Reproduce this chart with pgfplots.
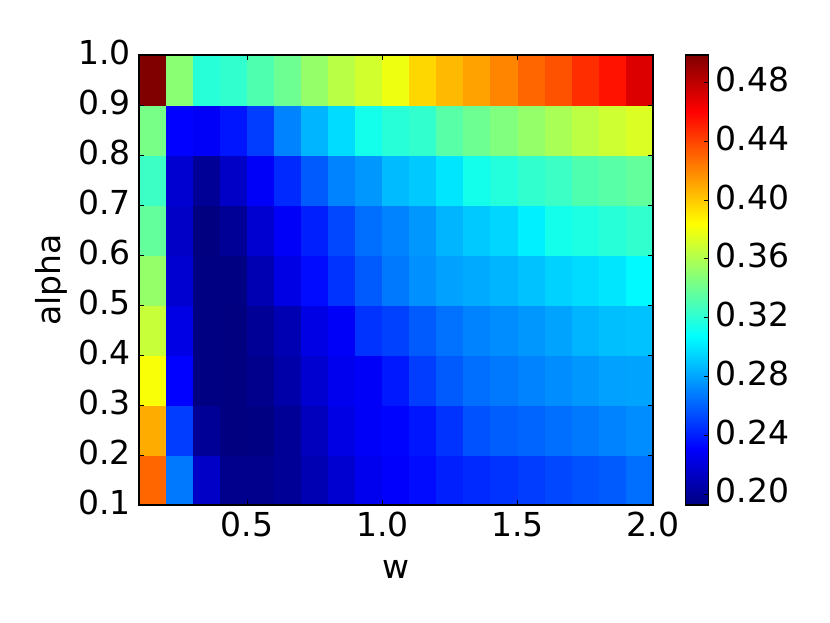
\documentclass[border=0pt]{standalone}
\usepackage{fontspec}
\setmainfont{DejaVu Sans}
\usepackage{pgfplots}
\pgfplotsset{compat=1.18}
\pgfplotsset{
  every axis/.append style={
    /pgf/number format/assume math mode=true,
    tick label style={font=\fontsize{33}{40}\selectfont},
    label style={font=\fontsize{33}{40}\selectfont},
    axis line style={black, line width=1.1pt},
    every tick/.style={black, line width=0.9pt},
    major tick length=5pt,
    tick align=inside,
  },
}
\begin{document}
\begin{tikzpicture}
\begin{axis}[
  at={(0pt,0pt)}, anchor=south west,
  scale only axis, width=514pt, height=450pt,
  axis on top,
  xmin=0.1, xmax=2.0, ymin=0.1, ymax=1.0,
  xtick={0.5,1.0,1.5,2.0},
  ytick={0.1,0.2,0.3,0.4,0.5,0.6,0.7,0.8,0.9,1.0},
  xticklabel style={/pgf/number format/fixed, /pgf/number format/fixed zerofill, /pgf/number format/precision=1,
    anchor=north, inner sep=0pt, yshift=-7pt},
  yticklabel style={/pgf/number format/fixed, /pgf/number format/fixed zerofill, /pgf/number format/precision=1,
    anchor=east, inner sep=0pt, xshift=-8pt, yshift=3pt},
  xlabel={w}, ylabel={alpha},
  xlabel style={at={(axis description cs:0.5,0)}, anchor=base, yshift=-74pt},
  ylabel style={at={(axis description cs:-0.152,0.5)}, anchor=base},
  colormap/jet,
  point meta min=0.1925, point meta max=0.4988,
  colorbar,
  colorbar/width=23pt,
  colorbar style={
    at={(parent axis.north east)}, anchor=north west, xshift=24pt,
    scale only axis, height=450pt,
    enlargelimits=false,
    axis on top,
    tick align=inside,
    major tick length=5pt,
    ytick={0.20,0.24,0.28,0.32,0.36,0.40,0.44,0.48},
    ytick pos=right,
    yticklabel pos=right,
    yticklabel style={/pgf/number format/fixed, /pgf/number format/fixed zerofill, /pgf/number format/precision=2,
      anchor=west, inner sep=0pt, xshift=7pt, yshift=3pt},
  },
]
\addplot[matrix plot*, mesh/cols=19, point meta=explicit] coordinates {
(0.15,0.15)[0.430] (0.25,0.15)[0.267] (0.35,0.15)[0.214] (0.45,0.15)[0.196] (0.55,0.15)[0.196] (0.65,0.15)[0.199] (0.75,0.15)[0.208] (0.85,0.15)[0.217] (0.95,0.15)[0.226] (1.05,0.15)[0.230] (1.15,0.15)[0.234] (1.25,0.15)[0.240] (1.35,0.15)[0.243] (1.45,0.15)[0.246] (1.55,0.15)[0.249] (1.65,0.15)[0.252] (1.75,0.15)[0.255] (1.85,0.15)[0.258] (1.95,0.15)[0.264]
(0.15,0.25)[0.409] (0.25,0.25)[0.249] (0.35,0.25)[0.199] (0.45,0.25)[0.1925] (0.55,0.25)[0.193] (0.65,0.25)[0.199] (0.75,0.25)[0.211] (0.85,0.25)[0.223] (0.95,0.25)[0.229] (1.05,0.25)[0.232] (1.15,0.25)[0.237] (1.25,0.25)[0.246] (1.35,0.25)[0.255] (1.45,0.25)[0.259] (1.55,0.25)[0.261] (1.65,0.25)[0.264] (1.75,0.25)[0.267] (1.85,0.25)[0.270] (1.95,0.25)[0.273]
(0.15,0.35)[0.382] (0.25,0.35)[0.231] (0.35,0.35)[0.193] (0.45,0.35)[0.1925] (0.55,0.35)[0.196] (0.65,0.35)[0.205] (0.75,0.35)[0.217] (0.85,0.35)[0.226] (0.95,0.35)[0.229] (1.05,0.35)[0.238] (1.15,0.35)[0.249] (1.25,0.35)[0.258] (1.35,0.35)[0.264] (1.45,0.35)[0.267] (1.55,0.35)[0.270] (1.65,0.35)[0.273] (1.75,0.35)[0.276] (1.85,0.35)[0.279] (1.95,0.35)[0.280]
(0.15,0.45)[0.367] (0.25,0.45)[0.223] (0.35,0.45)[0.193] (0.45,0.45)[0.1925] (0.55,0.45)[0.199] (0.65,0.45)[0.208] (0.75,0.45)[0.223] (0.85,0.45)[0.229] (0.95,0.45)[0.246] (1.05,0.45)[0.250] (1.15,0.45)[0.258] (1.25,0.45)[0.265] (1.35,0.45)[0.270] (1.45,0.45)[0.273] (1.55,0.45)[0.276] (1.65,0.45)[0.280] (1.75,0.45)[0.285] (1.85,0.45)[0.288] (1.95,0.45)[0.289]
(0.15,0.55)[0.352] (0.25,0.55)[0.217] (0.35,0.55)[0.193] (0.45,0.55)[0.193] (0.55,0.55)[0.208] (0.65,0.55)[0.223] (0.75,0.55)[0.234] (0.85,0.55)[0.246] (0.95,0.55)[0.258] (1.05,0.55)[0.267] (1.15,0.55)[0.274] (1.25,0.55)[0.279] (1.35,0.55)[0.282] (1.45,0.55)[0.285] (1.55,0.55)[0.289] (1.65,0.55)[0.294] (1.75,0.55)[0.297] (1.85,0.55)[0.300] (1.95,0.55)[0.306]
(0.15,0.65)[0.337] (0.25,0.65)[0.214] (0.35,0.65)[0.1925] (0.45,0.65)[0.199] (0.55,0.65)[0.217] (0.65,0.65)[0.229] (0.75,0.65)[0.240] (0.85,0.65)[0.252] (0.95,0.65)[0.264] (1.05,0.65)[0.270] (1.15,0.65)[0.276] (1.25,0.65)[0.285] (1.35,0.65)[0.291] (1.45,0.65)[0.295] (1.55,0.65)[0.303] (1.65,0.65)[0.313] (1.75,0.65)[0.316] (1.85,0.65)[0.319] (1.95,0.65)[0.322]
(0.15,0.75)[0.325] (0.25,0.75)[0.217] (0.35,0.75)[0.199] (0.45,0.75)[0.214] (0.55,0.75)[0.229] (0.65,0.75)[0.243] (0.75,0.75)[0.258] (0.85,0.75)[0.270] (0.95,0.75)[0.276] (1.05,0.75)[0.287] (1.15,0.75)[0.291] (1.25,0.75)[0.300] (1.35,0.75)[0.313] (1.45,0.75)[0.318] (1.55,0.75)[0.322] (1.65,0.75)[0.325] (1.75,0.75)[0.331] (1.85,0.75)[0.334] (1.95,0.75)[0.337]
(0.15,0.85)[0.343] (0.25,0.85)[0.231] (0.35,0.85)[0.229] (0.45,0.85)[0.237] (0.55,0.85)[0.249] (0.65,0.85)[0.270] (0.75,0.85)[0.285] (0.85,0.85)[0.297] (0.95,0.85)[0.313] (1.05,0.85)[0.319] (1.15,0.85)[0.322] (1.25,0.85)[0.334] (1.35,0.85)[0.340] (1.45,0.85)[0.346] (1.55,0.85)[0.352] (1.65,0.85)[0.358] (1.75,0.85)[0.364] (1.85,0.85)[0.369] (1.95,0.85)[0.373]
(0.15,0.95)[0.4988] (0.25,0.95)[0.349] (0.35,0.95)[0.319] (0.45,0.95)[0.322] (0.55,0.95)[0.331] (0.65,0.95)[0.340] (0.75,0.95)[0.352] (0.85,0.95)[0.363] (0.95,0.95)[0.370] (1.05,0.95)[0.379] (1.15,0.95)[0.396] (1.25,0.95)[0.405] (1.35,0.95)[0.412] (1.45,0.95)[0.421] (1.55,0.95)[0.430] (1.65,0.95)[0.436] (1.75,0.95)[0.447] (1.85,0.95)[0.455] (1.95,0.95)[0.471]
};
\end{axis}
\pgfresetboundingbox
\path (-139pt,-118pt) rectangle (691pt,505pt);
\end{tikzpicture}
\end{document}
